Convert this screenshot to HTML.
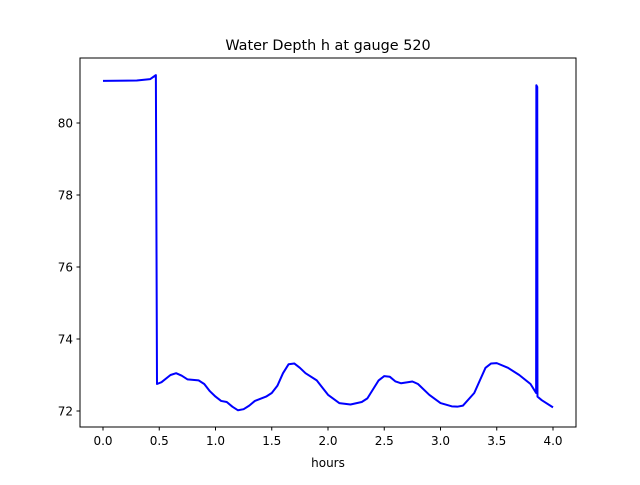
<!DOCTYPE html>
<html><head><meta charset="utf-8"><style>
body{margin:0;background:#fff;}
svg{font-family:"DejaVu Sans","Liberation Sans",sans-serif;}
</style></head><body>
<svg id="chart" width="640" height="480" xmlns="http://www.w3.org/2000/svg">
<rect width="640" height="480" fill="#fff"/>
<text x="328" y="50" text-anchor="middle" font-size="14.4">Water Depth h at gauge 520</text>
<g id="plot"></g>
<rect x="80" y="58" width="496" height="369" fill="none" stroke="#000" stroke-width="1"/>
<text x="328" y="467" text-anchor="middle" font-size="12">hours</text>
</svg>
<script>
const xs=[0,0.3,0.42,0.47,0.48,0.52,0.6,0.65,0.7,0.75,0.85,0.9,0.95,1.0,1.05,1.1,1.15,1.2,1.25,1.3,1.35,1.45,1.5,1.55,1.6,1.65,1.7,1.75,1.8,1.9,1.95,2.0,2.1,2.2,2.3,2.35,2.4,2.45,2.5,2.55,2.6,2.65,2.75,2.8,2.9,3.0,3.1,3.15,3.2,3.3,3.35,3.4,3.45,3.5,3.6,3.7,3.8,3.85,3.852,3.86,3.862,3.9,4.0];
const ys=[81.17,81.18,81.22,81.33,72.75,72.8,73.0,73.05,72.98,72.88,72.85,72.75,72.55,72.4,72.28,72.25,72.12,72.02,72.05,72.15,72.28,72.4,72.5,72.7,73.05,73.3,73.32,73.2,73.05,72.85,72.65,72.45,72.22,72.18,72.25,72.35,72.6,72.85,72.97,72.95,72.82,72.77,72.82,72.75,72.45,72.22,72.13,72.12,72.15,72.5,72.85,73.2,73.32,73.33,73.2,73.0,72.75,72.5,81.05,81.0,72.4,72.3,72.1];
const xTicks=[0,0.5,1,1.5,2,2.5,3,3.5,4];
const xTickLabels=["0.0","0.5","1.0","1.5","2.0","2.5","3.0","3.5","4.0"];
const yTicks=[72,74,76,78,80];
const yTickLabels=["72","74","76","78","80"];
const X=v=>103+v*112.5, Y=v=>411-(v-72)*36;
const g=document.getElementById('plot'), NS="http://www.w3.org/2000/svg";
function mk(t,a){const e=document.createElementNS(NS,t);for(const k in a)e.setAttribute(k,a[k]);g.appendChild(e);return e;}
xTicks.forEach((t,i)=>{
 const l=mk('line',{x1:X(t),x2:X(t),y1:427,y2:430.5,stroke:'#000'});
 
 
 const tx=mk('text',{x:X(t),y:445,'text-anchor':'middle','font-size':12});
 tx.textContent=xTickLabels[i];
 
 
});
yTicks.forEach((t,i)=>{
 const l=mk('line',{x1:76.5,x2:80,y1:Y(t),y2:Y(t),stroke:'#000'});
 
 
 const tx=mk('text',{x:73,y:Y(t)+4.5,'text-anchor':'end','font-size':12});
 tx.textContent=yTickLabels[i];
 
 
});
const p=mk('polyline',{points:xs.map((x,i)=>X(x)+','+Y(ys[i])).join(' '),fill:'none',stroke:'#0000ff','stroke-width':2,'stroke-linejoin':'round'});


</script>
</body></html>
